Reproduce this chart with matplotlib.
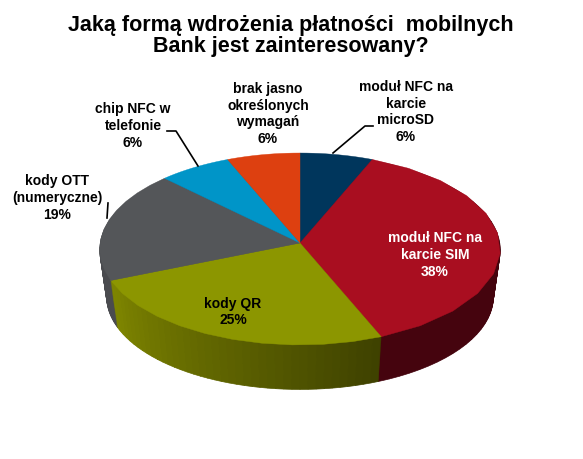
import matplotlib
matplotlib.use('Agg')
import matplotlib.pyplot as plt
from matplotlib.colors import to_rgb
import numpy as np

labels = ['moduł NFC na\nkarcie\nmicroSD', 'moduł NFC na\nkarcie SIM', 'kody QR',
          'kody OTT\n(numeryczne)', 'chip NFC w\ntelefonie', 'brak jasno\nokreślonych\nwymagań']
values = [6.25, 37.5, 25, 18.75, 6.25, 6.25]
colors = ['#00365C', '#A90E20', '#8C9600', '#545659', '#0095C8', '#DD4010']
# wall colours at the start and end of each slice (olive gets lighter towards the left)
side_start = ['#001B2E', '#45040E', '#3F4200', '#4A4B4F', '#004A64', '#6E2008']
side_end = ['#001B2E', '#45040E', '#7F8600', '#4A4B4F', '#004A64', '#6E2008']
label_x = [406, 435, 233, 57, 133, 268]
label_y = [112, 255, 312, 198, 126, 114]
label_cols = ['black', 'white', 'black', 'black', 'black', 'black']

W, H = 583, 459
plt.rcParams['font.family'] = ['Liberation Sans', 'DejaVu Sans']

fig = plt.figure(figsize=(W / 100, H / 100), dpi=100, facecolor='white')
ax = fig.add_axes([0, 0, 1, 1])
ax.set_xlim(0, W)
ax.set_ylim(H, 0)
ax.set_axis_off()

cx, cy = 300, 243
R, S, k = 200, 95.6, 0.0625
depth = 48
edges = np.cumsum([0] + values) / 100 * 2 * np.pi


def slice_xy(a, b, off=0):
    # tilted pie: projective map of the unit circle so the near side is bigger
    t = np.linspace(a, b, 12)
    u = np.concatenate([[0], np.sin(t)])
    v = np.concatenate([[0], -np.cos(t)])
    d = 1 - k * v
    shrink = 1 - 0.035 * off / depth
    return cx + R * shrink * u / d, cy + off + S * shrink * v / d


for off in range(depth, 0, -1):
    for i in range(len(values)):
        steps = np.linspace(edges[i], edges[i + 1], 41)
        c0, c1 = np.array(to_rgb(side_start[i])), np.array(to_rgb(side_end[i]))
        for j in range(40):
            x, y = slice_xy(steps[j], steps[j + 1], off)
            ax.fill(x, y, color=tuple(c0 + (c1 - c0) * j / 39), lw=0.5, zorder=1)

for i in range(len(values)):
    x, y = slice_xy(edges[i], edges[i + 1])
    ax.fill(x, y, color=colors[i], lw=0.3, zorder=2)

ax.text(291, 36, 'Jaką formą wdrożenia płatności  mobilnych\nBank jest zainteresowany?', ha='center', va='center',
        fontsize=15.5, fontweight='bold', color='black', linespacing=1.05)

for lab, val, x, y, c in zip(labels, values, label_x, label_y, label_cols):
    ax.text(x, y, '%s\n%.0f%%' % (lab, val), ha='center', va='center', fontsize=10, fontweight='bold',
            color=c, linespacing=1.27, zorder=5)

# leader lines
ax.plot([167, 176, 198], [131, 131, 166], color='black', lw=1.2, zorder=3)
ax.plot([108, 107], [203, 218], color='black', lw=1.2, zorder=3)
ax.plot([373, 365, 333], [126, 126, 153], color='black', lw=1.2, zorder=3)

fig.savefig('out.png', dpi=100, facecolor='white')
